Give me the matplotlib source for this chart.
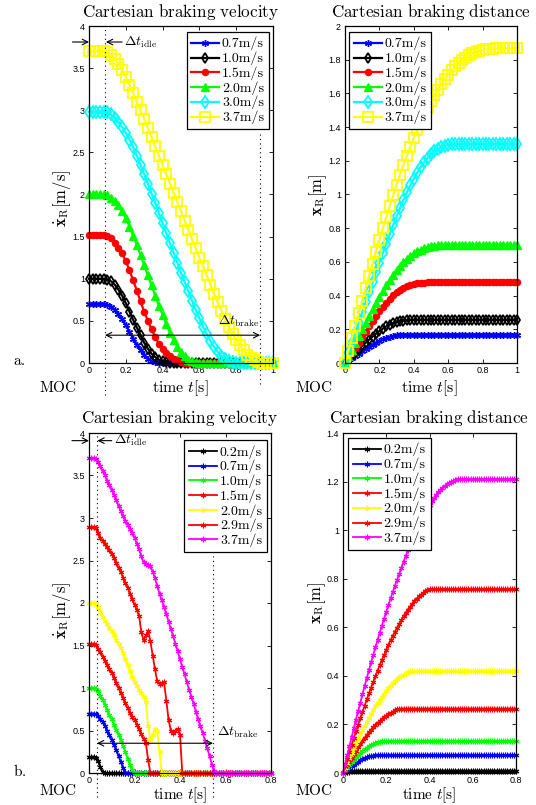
import numpy as np
import matplotlib
matplotlib.use("Agg")
import matplotlib.pyplot as plt
from matplotlib.ticker import FuncFormatter

plt.rcParams['mathtext.fontset'] = 'cm'
plt.rcParams['font.family'] = ['Liberation Sans', 'DejaVu Sans']

W, H = 536, 805

# ---------------- data: panel a (step 0.02 s) ----------------
labels_a = ['0.7', '1.0', '1.5', '2.0', '3.0', '3.7']
vel_a_07 = [0.70]*5 + [0.69, 0.67, 0.63, 0.58, 0.52, 0.45, 0.37, 0.29, 0.21, 0.15, 0.09, 0.05, 0.02, 0.01] + [0.0]*32
vel_a_10 = [1.00]*5 + [0.99, 0.97, 0.93, 0.87, 0.80, 0.71, 0.61, 0.51, 0.42, 0.33, 0.24, 0.17, 0.11, 0.07, 0.04, 0.02, 0.01] + [0.0]*29
vel_a_15 = [1.52]*5 + [1.51, 1.48, 1.43, 1.37, 1.30, 1.21, 1.10, 0.98, 0.86, 0.73, 0.61, 0.50, 0.40, 0.31, 0.23, 0.17, 0.12, 0.08, 0.05, 0.03, 0.01] + [0.0]*25
vel_a_20 = [2.00]*5 + [1.99, 1.96, 1.92, 1.87, 1.80, 1.72, 1.62, 1.51, 1.40, 1.28, 1.16, 1.04, 0.92, 0.80, 0.68, 0.57, 0.46, 0.36, 0.27, 0.19, 0.13, 0.08, 0.04, 0.02, 0.01] + [0.0]*21
vel_a_30 = [2.98]*5 + [2.98, 2.95, 2.91, 2.86, 2.80, 2.73, 2.65, 2.56, 2.46, 2.35, 2.24, 2.13, 2.01, 1.90, 1.78, 1.66, 1.54, 1.42, 1.31, 1.19, 1.07, 0.96, 0.85, 0.74, 0.63, 0.53, 0.43, 0.34, 0.26, 0.19, 0.13, 0.08, 0.05, 0.02, 0.01] + [0.0]*11
vel_a_37 = [3.70]*5 + [3.69, 3.66, 3.61, 3.55, 3.48, 3.39, 3.30, 3.20, 3.10, 3.00, 2.90, 2.79, 2.68, 2.57, 2.46, 2.35, 2.24, 2.13, 2.02, 1.91, 1.80, 1.69, 1.58, 1.47, 1.36, 1.25, 1.15, 1.04, 0.93, 0.82, 0.72, 0.62, 0.52, 0.43, 0.35, 0.27, 0.21, 0.15, 0.10, 0.06, 0.03, 0.01] + [0.0]*4

dist_a_07 = [0, 0.014, 0.028, 0.042, 0.056, 0.070, 0.084, 0.097, 0.109, 0.121, 0.131, 0.140, 0.148, 0.155, 0.160, 0.164, 0.166, 0.167] + [0.168]*33
dist_a_10 = [0, 0.02, 0.04, 0.06, 0.08, 0.10, 0.12, 0.139, 0.157, 0.174, 0.190, 0.204, 0.217, 0.228, 0.237, 0.244, 0.249, 0.252, 0.254, 0.255] + [0.256]*31
dist_a_15 = [0, 0.03, 0.06, 0.09, 0.12, 0.155, 0.186, 0.217, 0.248, 0.278, 0.307, 0.334, 0.359, 0.382, 0.402, 0.420, 0.435, 0.447, 0.457, 0.464, 0.469, 0.473, 0.476, 0.477] + [0.478]*27
dist_a_20 = [0, 0.04, 0.08, 0.12, 0.16, 0.20, 0.24, 0.279, 0.318, 0.356, 0.393, 0.429, 0.463, 0.495, 0.525, 0.553, 0.578, 0.600, 0.619, 0.636, 0.650, 0.662, 0.672, 0.680, 0.687, 0.692, 0.696, 0.698, 0.699] + [0.700]*22
dist_a_30 = [0, 0.06, 0.12, 0.18, 0.24, 0.30, 0.36, 0.42, 0.479, 0.538, 0.596, 0.653, 0.709, 0.764, 0.818, 0.870, 0.920, 0.968, 1.013, 1.055, 1.094, 1.130, 1.162, 1.191, 1.216, 1.238, 1.256, 1.270, 1.281, 1.289, 1.294, 1.297, 1.299] + [1.300]*18
dist_a_37 = [0, 0.074, 0.148, 0.222, 0.296, 0.370, 0.444, 0.517, 0.589, 0.660, 0.730, 0.799, 0.866, 0.932, 0.996, 1.058, 1.118, 1.176, 1.231, 1.284, 1.335, 1.383, 1.429, 1.472, 1.513, 1.552, 1.589, 1.623, 1.655, 1.685, 1.712, 1.737, 1.760, 1.780, 1.798, 1.813, 1.826, 1.837, 1.846, 1.853, 1.858, 1.862, 1.864, 1.866] + [1.867]*7

# ---------------- data: panel b (step 0.01 s) ----------------
labels_b = ['0.2', '0.7', '1.0', '1.5', '2.0', '2.9', '3.7']
vel_b_02 = [0.19, 0.19, 0.19, 0.18, 0.14, 0.07, 0.01] + [0.0]*74
vel_b_07 = [0.70, 0.70, 0.70, 0.69, 0.67, 0.64, 0.60, 0.55, 0.50, 0.45, 0.39, 0.33, 0.27, 0.20, 0.13, 0.06] + [0.0]*65
vel_b_10 = [1.00, 1.00, 1.00, 0.99, 0.96, 0.91, 0.86, 0.80, 0.74, 0.68, 0.63, 0.57, 0.51, 0.45, 0.39, 0.32, 0.25, 0.17, 0.10, 0.04] + [0.0]*61
vel_b_15 = [1.52, 1.52, 1.52, 1.51, 1.46, 1.42, 1.37, 1.32, 1.27, 1.22, 1.18, 1.12, 1.06, 1.00, 0.94, 0.88, 0.82, 0.76, 0.71, 0.66, 0.62, 0.57, 0.52, 0.46, 0.40, 0.35, 0.15] + [0.0]*54
vel_b_20 = [2.00, 2.00, 2.00, 1.99, 1.95, 1.90, 1.84, 1.79, 1.75, 1.71, 1.67, 1.62, 1.57, 1.52, 1.47, 1.41, 1.34, 1.27, 1.20, 1.13, 1.07, 1.02, 0.98, 0.94, 0.90, 0.84, 0.55, 0.40, 0.45, 0.52, 0.50, 0.25] + [0.0]*49
vel_b_29 = [2.89, 2.89, 2.89, 2.88, 2.82, 2.77, 2.73, 2.70, 2.66, 2.62, 2.58, 2.53, 2.47, 2.41, 2.36, 2.30, 2.24, 2.18, 2.11, 2.05, 1.98, 1.92, 1.85, 1.66, 1.56, 1.62, 1.67, 1.55, 1.38, 1.22, 1.08, 1.05, 1.06, 1.07, 0.85, 0.62, 0.50, 0.47, 0.50, 0.52, 0.45] + [0.0]*40
vel_b_37 = [3.70, 3.70, 3.70, 3.69, 3.66, 3.61, 3.55, 3.50, 3.44, 3.39, 3.33, 3.27, 3.21, 3.14, 3.08, 3.02, 2.97, 2.92, 2.87, 2.82, 2.77, 2.70, 2.63, 2.55, 2.48, 2.46, 2.45, 2.43, 2.37, 2.29, 2.20, 2.11, 2.03, 1.95, 1.87, 1.78, 1.69, 1.61, 1.52, 1.43, 1.34, 1.25, 1.16, 1.07, 0.98, 0.90, 0.81, 0.72, 0.63, 0.55, 0.47, 0.38, 0.29, 0.20, 0.10, 0.02] + [0.0]*25

dist_b_02 = [0, 0.002, 0.004, 0.006, 0.008, 0.009, 0.010] + [0.010]*74
dist_b_07 = [0, 0.007, 0.014, 0.021, 0.028, 0.035, 0.041, 0.047, 0.052, 0.057, 0.061, 0.065, 0.068, 0.070, 0.072, 0.073] + [0.073]*65
dist_b_10 = [0, 0.011, 0.022, 0.033, 0.044, 0.055, 0.064, 0.073, 0.082, 0.090, 0.097, 0.104, 0.110, 0.115, 0.120, 0.124, 0.127, 0.129, 0.130, 0.131] + [0.131]*61
dist_b_15 = [0, 0.016, 0.031, 0.047, 0.063, 0.078, 0.092, 0.106, 0.119, 0.132, 0.145, 0.157, 0.168, 0.179, 0.189, 0.198, 0.207, 0.215, 0.223, 0.230, 0.236, 0.243, 0.248, 0.253, 0.258, 0.262, 0.264] + [0.265]*54
dist_b_20 = [0, 0.021, 0.042, 0.062, 0.083, 0.103, 0.122, 0.141, 0.160, 0.177, 0.195, 0.212, 0.228, 0.244, 0.259, 0.274, 0.288, 0.302, 0.314, 0.327, 0.338, 0.349, 0.359, 0.369, 0.379, 0.388, 0.395, 0.400, 0.405, 0.410, 0.415, 0.419] + [0.420]*49
dist_b_29 = [0, 0.029, 0.058, 0.087, 0.115, 0.143, 0.171, 0.198, 0.225, 0.251, 0.277, 0.303, 0.328, 0.352, 0.376, 0.399, 0.422, 0.444, 0.466, 0.487, 0.508, 0.528, 0.547, 0.565, 0.582, 0.599, 0.615, 0.631, 0.646, 0.660, 0.673, 0.685, 0.697, 0.708, 0.718, 0.727, 0.735, 0.742, 0.748, 0.753, 0.756] + [0.757]*40
dist_b_37 = [0, 0.037, 0.074, 0.111, 0.148, 0.184, 0.220, 0.255, 0.290, 0.324, 0.358, 0.391, 0.424, 0.456, 0.487, 0.518, 0.548, 0.578, 0.607, 0.636, 0.664, 0.692, 0.719, 0.745, 0.771, 0.796, 0.821, 0.846, 0.870, 0.894, 0.917, 0.939, 0.961, 0.982, 1.002, 1.021, 1.039, 1.057, 1.074, 1.090, 1.105, 1.119, 1.132, 1.144, 1.155, 1.165, 1.174, 1.182, 1.189, 1.195, 1.200, 1.204, 1.207, 1.209, 1.210] + [1.210]*26

xticks_a = [0, 0.2, 0.4, 0.6, 0.8, 1]
xticks_b = [0, 0.2, 0.4, 0.6, 0.8]
vticks = [0, 0.5, 1, 1.5, 2, 2.5, 3, 3.5, 4]
dticks_a = [0, 0.2, 0.4, 0.6, 0.8, 1, 1.2, 1.4, 1.6, 1.8, 2]
dticks_b = [0, 0.2, 0.4, 0.6, 0.8, 1, 1.2, 1.4]

# ---------------- styles ----------------
AST = (6, 2, 0)
style_a = [dict(color=(0, 0, 1), marker=AST, ms=5, mfc='none', mew=1.0),
           dict(color='k', marker='d', ms=5.5, mfc='none', mew=1.3),
           dict(color=(1, 0, 0), marker='o', ms=4.5, mew=0.9),
           dict(color=(0, 1, 0), marker='^', ms=6, mew=0.9),
           dict(color=(0, 1, 1), marker='d', ms=6.5, mfc='none', mew=1.3),
           dict(color=(1, 1, 0), marker='s', ms=6.5, mfc='none', mew=1.3)]
cols_b = ['k', (0, 0, 1), (0, 1, 0), (1, 0, 0), (1, 1, 0), (1, 0, 0), (1, 0, 1)]

fig = plt.figure(figsize=(W / 100, H / 100), dpi=100)


def add_ax(l, t, r, b):
    return fig.add_axes([l / W, 1 - b / H, (r - l) / W, (b - t) / H])


def ftext(x, y, s, **kw):
    kw.setdefault('ha', 'center')
    kw.setdefault('va', 'center')
    fig.text(x / W, 1 - y / H, s, **kw)


ax1 = add_ax(89, 26, 273, 363)
ax2 = add_ax(345, 26, 517, 363)
ax3 = add_ax(89, 433, 271, 773)
ax4 = add_ax(343, 433, 516, 773)

fmt = FuncFormatter(lambda v, p: '%g' % v)
for ax in (ax1, ax2, ax3, ax4):
    ax.tick_params(direction='in', length=3, width=0.6, top=True, right=True,
                   labelsize=6.5)
    ax.tick_params(axis='y', pad=3)
    ax.tick_params(axis='x', pad=1.8)
    ax.xaxis.set_major_formatter(fmt)
    ax.yaxis.set_major_formatter(fmt)
    for sp in ax.spines.values():
        sp.set_linewidth(0.9)

series_va = [vel_a_07, vel_a_10, vel_a_15, vel_a_20, vel_a_30, vel_a_37]
series_da = [dist_a_07, dist_a_10, dist_a_15, dist_a_20, dist_a_30, dist_a_37]
for lab, st, v, d in zip(labels_a, style_a, series_va, series_da):
    ta = 0.02 * np.arange(len(v))
    tb = 0.02 * np.arange(len(d))
    kw = dict(lw=1.6, clip_on=False, label='%sm/s' % lab)
    kw.update(st)
    ax1.plot(ta, v, **kw)
    ax2.plot(tb, d, **kw)

series_vb = [vel_b_02, vel_b_07, vel_b_10, vel_b_15, vel_b_20, vel_b_29, vel_b_37]
series_db = [dist_b_02, dist_b_07, dist_b_10, dist_b_15, dist_b_20, dist_b_29, dist_b_37]
for lab, c, v, d in zip(labels_b, cols_b, series_vb, series_db):
    ta = 0.01 * np.arange(len(v))
    tb = 0.01 * np.arange(len(d))
    kw = dict(color=c, lw=1.3, marker=AST, ms=4, mew=0.8, clip_on=False,
              label='%sm/s' % lab)
    ax3.plot(ta, v, **kw)
    ax4.plot(tb, d, **kw)

ax1.set_xlim(0, 1); ax1.set_ylim(0, 4)
ax2.set_xlim(0, 1); ax2.set_ylim(0, 2)
ax3.set_xlim(0, 0.8); ax3.set_ylim(0, 4)
ax4.set_xlim(0, 0.8); ax4.set_ylim(0, 1.4)
ax1.set_xticks(xticks_a); ax1.set_yticks(vticks)
ax2.set_xticks(xticks_a); ax2.set_yticks(dticks_a)
ax3.set_xticks(xticks_b); ax3.set_yticks(vticks)
ax4.set_xticks(xticks_b); ax4.set_yticks(dticks_b)

leg_kw = dict(prop={'family': 'cmr10', 'size': 10}, frameon=True, fancybox=False,
              framealpha=1, edgecolor='k', borderaxespad=0, handlelength=2.0,
              handletextpad=0.2, labelspacing=0.09, borderpad=0.35, handleheight=0.6)
for ax, loc, anchor in ((ax1, 'upper right', (0.978, 0.982)),
                        (ax2, 'upper left', (0.023, 0.982)),
                        (ax3, 'upper right', (0.978, 0.979)),
                        (ax4, 'upper left', (0.029, 0.985))):
    lg = ax.legend(loc=loc, bbox_to_anchor=anchor, **leg_kw)
    lg.get_frame().set_linewidth(0.9)
    lg.set_zorder(10)

# ---------------- annotations ----------------
dot = dict(color='k', lw=0.8, ls=(0, (1, 3)), clip_on=False)
arr1 = dict(arrowstyle='->', lw=0.8, color='k', shrinkA=0, shrinkB=0)
arr2 = dict(arrowstyle='<->', lw=0.8, color='k', shrinkA=0, shrinkB=0)

# panel a velocity
ax1.plot([0.087, 0.087], [-0.38, 4.0], **dot)
ax1.plot([0.93, 0.93], [-0.25, 2.75], **dot)
ax1.annotate('', xy=(0, 3.81), xytext=(-0.09, 3.81), arrowprops=arr1, annotation_clip=False)
ax1.annotate('', xy=(0.092, 3.81), xytext=(0.18, 3.81), arrowprops=arr1, annotation_clip=False)
ax1.text(0.19, 3.81, r'$\Delta t_{\mathrm{idle}}$', fontsize=10, ha='left', va='center')
ax1.annotate('', xy=(0.087, 0.33), xytext=(0.93, 0.33), arrowprops=arr2, annotation_clip=False)
ax1.text(0.70, 0.49, r'$\Delta t_{\mathrm{brake}}$', fontsize=10, ha='left', va='center')

# panel b velocity
ax3.plot([0.035, 0.035], [-0.28, 4.0], **dot)
ax3.plot([0.545, 0.545], [-0.28, 2.55], **dot)
ax3.annotate('', xy=(0, 3.91), xytext=(-0.075, 3.91), arrowprops=arr1, annotation_clip=False)
ax3.annotate('', xy=(0.037, 3.91), xytext=(0.10, 3.91), arrowprops=arr1, annotation_clip=False)
ax3.text(0.108, 3.91, r'$\Delta t_{\mathrm{idle}}$', fontsize=10, ha='left', va='center')
ax3.annotate('', xy=(0.035, 0.35), xytext=(0.545, 0.35), arrowprops=arr2, annotation_clip=False)
ax3.text(0.563, 0.48, r'$\Delta t_{\mathrm{brake}}$', fontsize=10, ha='left', va='center')

# ---------------- texts ----------------
tfs = 12.3
ftext(181, 12, r'$\mathrm{Cartesian\ braking\ velocity}$', fontsize=tfs)
ftext(431, 12, r'$\mathrm{Cartesian\ braking\ distance}$', fontsize=tfs)
ftext(180, 418, r'$\mathrm{Cartesian\ braking\ velocity}$', fontsize=tfs)
ftext(429, 418, r'$\mathrm{Cartesian\ braking\ distance}$', fontsize=tfs)

ylv = r'$\dot{\mathbf{x}}_{\mathrm{R}}[\mathrm{m/s}]$'
yld = r'$\mathbf{x}_{\mathrm{R}}[\mathrm{m}]$'
ftext(62, 198, ylv, fontsize=12, rotation=90)
ftext(318, 195, yld, fontsize=12, rotation=90)
ftext(62, 610, ylv, fontsize=12, rotation=90)
ftext(317, 603, yld, fontsize=12, rotation=90)

xl = r'$\mathrm{time}\ t[\mathrm{s}]$'
ftext(180, 388, xl, fontsize=11.5)
ftext(429, 388, xl, fontsize=11.5)
ftext(180, 795, xl, fontsize=11)
ftext(429, 795, xl, fontsize=11)

moc = r'$\mathrm{MOC}$'
ftext(58, 387, moc, fontsize=11)
ftext(314, 387, moc, fontsize=11)
ftext(58, 790, moc, fontsize=11)
ftext(314, 790, moc, fontsize=11)

ftext(19, 361, r'$\mathrm{a.}$', fontsize=11)
ftext(20, 771, r'$\mathrm{b.}$', fontsize=11)

fig.savefig('out.png', dpi=100)
